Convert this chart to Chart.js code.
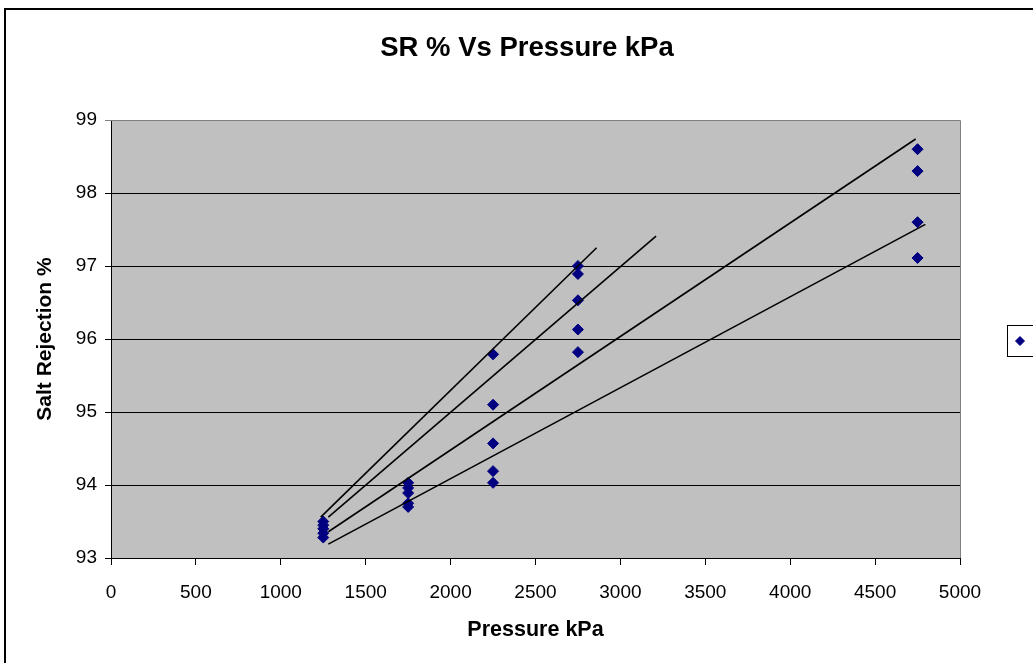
<!DOCTYPE html>
<html>
<head>
<meta charset="utf-8">
<title>SR % Vs Pressure kPa</title>
<script src="https://cdn.jsdelivr.net/npm/chart.js@4/dist/chart.umd.min.js"></script>
<style>
  html, body { margin: 0; padding: 0; background: #ffffff; }
  canvas { display: block; }
</style>
</head>
<body>
<canvas id="chart" width="1033" height="663"></canvas>
<script>
// Measured salt rejection (%) at each feed pressure (kPa)
const pressures = [1250, 1750, 2250, 2750, 4750];
const sr1250 = [93.50, 93.45, 93.40, 93.34, 93.28];
const sr1750 = [94.03, 93.96, 93.89, 93.75, 93.70];
const sr2250 = [95.79, 95.10, 94.57, 94.19, 94.03];
const sr2750 = [97.00, 96.89, 96.53, 96.13, 95.82];
const sr4750 = [98.60, 98.30, 97.60, 97.11];

// Linear trend lines: start and end of each fitted line
const trendStartX = [1235, 1280, 1280, 1280];
const trendStartY = [93.56, 93.56, 93.36, 93.19];
const trendEndX   = [2860, 3210, 4739, 4796];
const trendEndY   = [97.25, 97.41, 98.74, 97.57];

// Axis ranges and tick steps
const xTicks = { min: 0, max: 5000, step: 500 };
const yTicks = { min: 93, max: 99, step: 1 };

const FONT = "'Liberation Sans', Arial, sans-serif";
const NAVY = '#000080';

const srByPressure = [sr1250, sr1750, sr2250, sr2750, sr4750];
const measured = [];
pressures.forEach((p, i) => {
  srByPressure[i].forEach(v => measured.push({ x: p, y: v }));
});

const trendSets = trendStartX.map((sx, i) => ({
  type: 'line',
  label: 'trend ' + (i + 1),
  data: [{ x: sx, y: trendStartY[i] }, { x: trendEndX[i], y: trendEndY[i] }],
  showLine: true,
  borderColor: '#000000',
  borderWidth: 1.6,
  pointRadius: 0,
  fill: false,
  order: 1
}));

// White page, outer chart frame, plot background and border
const framePlugin = {
  id: 'frame',
  afterLayout(chart) {
    // centre the chart title on the whole chart frame
    if (chart.titleBlock) {
      chart.titleBlock.left = 0;
      chart.titleBlock.right = 1054;
    }
  },
  beforeDraw(chart) {
    const ctx = chart.ctx;
    ctx.save();
    ctx.fillStyle = '#ffffff';
    ctx.fillRect(0, 0, chart.width, chart.height);
    ctx.strokeStyle = '#000000';
    ctx.lineWidth = 2;
    ctx.strokeRect(5, 9, chart.width + 20, chart.height + 20);
    const a = chart.chartArea;
    ctx.fillStyle = '#c0c0c0';
    ctx.fillRect(a.left, a.top, a.right - a.left, a.bottom - a.top);
    ctx.restore();
  },
  afterDatasetsDraw(chart) {
    const ctx = chart.ctx;
    const a = chart.chartArea;
    ctx.save();
    ctx.strokeStyle = '#808080';
    ctx.lineWidth = 1;
    ctx.beginPath();
    ctx.moveTo(a.left, a.top + 0.5);
    ctx.lineTo(a.right + 0.5, a.top + 0.5);
    ctx.lineTo(a.right + 0.5, a.bottom);
    ctx.stroke();
    ctx.restore();
  },
  afterDraw(chart) {
    // legend box on the right with the series marker
    const ctx = chart.ctx;
    ctx.save();
    ctx.fillStyle = '#ffffff';
    ctx.strokeStyle = '#000000';
    ctx.lineWidth = 1;
    ctx.fillRect(1007.5, 325.5, 40, 31);
    ctx.strokeRect(1007.5, 325.5, 40, 31);
    ctx.fillStyle = NAVY;
    ctx.strokeStyle = NAVY;
    Chart.helpers.drawPoint(ctx, { pointStyle: 'rectRot', radius: 4.5, rotation: 0, borderWidth: 1 }, 1020, 341);
    ctx.restore();
  }
};

new Chart(document.getElementById('chart'), {
  type: 'scatter',
  data: {
    datasets: [
      ...trendSets,
      {
        label: '',
        data: measured,
        pointStyle: 'rectRot',
        pointRadius: 5.5,
        pointHoverRadius: 5.5,
        pointBorderWidth: 1,
        backgroundColor: NAVY,
        borderColor: NAVY,
        order: 2
      }
    ]
  },
  options: {
    responsive: false,
    devicePixelRatio: 1,
    animation: false,
    layout: { padding: { left: 0, right: 73, top: 0, bottom: 0 } },
    plugins: {
      legend: { display: false },
      tooltip: { enabled: false },
      title: {
        display: true,
        text: 'SR % Vs Pressure kPa',
        color: '#000000',
        font: { family: FONT, size: 27.5, weight: 'bold' },
        padding: { top: 32, bottom: 55 }
      }
    },
    scales: {
      x: {
        type: 'linear',
        min: xTicks.min,
        max: xTicks.max,
        afterFit(scale) { scale.height = 105; },
        ticks: {
          stepSize: xTicks.step,
          color: '#000000',
          font: { family: FONT, size: 19 },
          padding: 16,
          maxRotation: 0,
          autoSkip: false,
          callback: v => String(v)
        },
        grid: {
          drawOnChartArea: false,
          drawTicks: true,
          tickLength: 7,
          color: '#000000'
        },
        border: { display: true, color: '#000000', width: 1 },
        title: {
          display: true,
          text: 'Pressure kPa',
          color: '#000000',
          font: { family: FONT, size: 21.5, weight: 'bold' },
          padding: { top: 0, bottom: 20 }
        }
      },
      y: {
        type: 'linear',
        min: yTicks.min,
        max: yTicks.max,
        afterFit(scale) { scale.width = 111; },
        ticks: {
          stepSize: yTicks.step,
          color: '#000000',
          font: { family: FONT, size: 19 },
          padding: 8,
          callback: v => String(v)
        },
        grid: {
          drawTicks: true,
          tickLength: 6,
          color: ctx => (ctx.tick && ctx.tick.value === yTicks.max ? '#808080' : '#000000'),
          lineWidth: 1
        },
        border: { display: true, color: '#000000', width: 1 },
        title: {
          display: true,
          text: 'Salt Rejection %',
          color: '#000000',
          font: { family: FONT, size: 21, weight: 'bold' },
          padding: { top: 33, bottom: 0 }
        }
      }
    }
  },
  plugins: [framePlugin]
});
</script>
</body>
</html>
